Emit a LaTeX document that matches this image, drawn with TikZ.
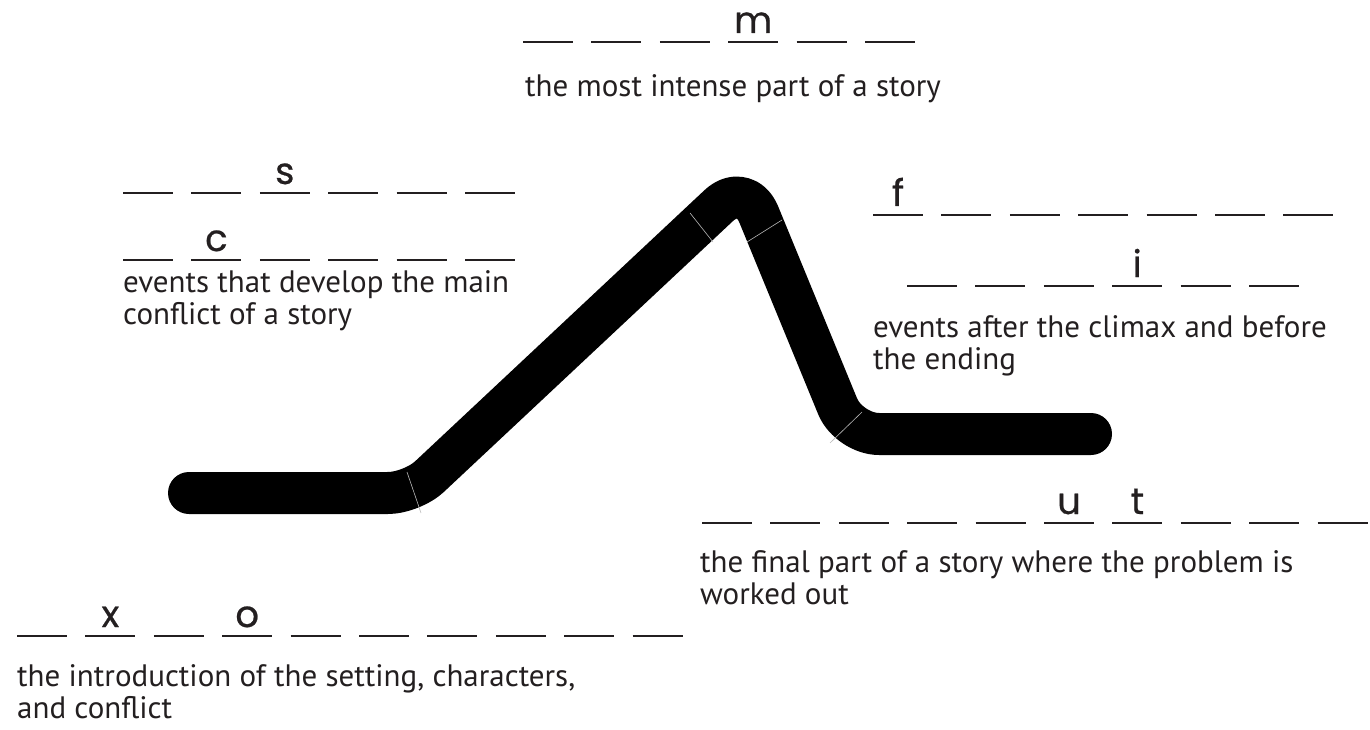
\documentclass[tikz,border=0pt]{standalone}
\usepackage{fontspec}
\setmainfont{PT Sans}
\newfontfamily\letterfont[FakeBold=0.6]{Poppins}
\definecolor{ink}{HTML}{231F20}
\begin{document}
\begin{tikzpicture}[x=1pt,y=-1pt,
  blank/.style={line width=2pt, draw=ink},
  letter/.style={font=\letterfont\fontsize{37}{37}\selectfont, text=ink, anchor=base, inner sep=0pt},
  defn/.style={font=\fontsize{31}{32}\selectfont, text=ink, anchor=base west, inner sep=0pt, align=left},
  plotline/.style={line width=42pt, line cap=round, line join=round},
  seam/.style={line width=0.6pt, draw=gray!55}]
\useasboundingbox (0,0) rectangle (1370,730);

% the plot line
\coordinate (start) at (189,493);
\coordinate (rise) at (412,493);
\coordinate (peak) at (745,181);
\coordinate (fall) at (849,434);
\coordinate (finish) at (1091,434);
\draw[plotline] (start) [rounded corners=24pt] -- (rise) [rounded corners=36pt] -- (peak)
  [rounded corners=30pt] -- (fall) -- (finish);

% joints between the pieces of the line
\draw[seam] (407,472) -- (421,513);
\draw[seam] (690,213) -- (713,242);
\draw[seam] (747,242) -- (782,220);
\draw[seam] (830,443) -- (862,412);

% row of blanks: x, y, count
\newcommand{\blankrow}[3]{%
  \foreach \k in {1,...,#3} {\draw[blank] ({#1+(\k-1)*68.4},#2) -- ++(50,0);}}

% climax
\blankrow{523}{42}{6}
\node[letter] (cm) at ({523+3*68.4+25},33) {m};
\node[defn] (climax) at (525,97) {the most intense part of a story};

% rising action (base anchor sits on the last line)
\blankrow{123}{193}{6}
\node[letter] (rs) at ({123+2*68.4+25},184) {s};
\blankrow{123}{260}{6}
\node[letter] (rc) at ({123+1*68.4+25},251) {c};
\node[defn] (rising) at (123,324) {events that develop the main\\conflict of a story};

% falling action
\blankrow{873}{215}{7}
\node[letter] (ff) at ({873+25},206) {f};
\blankrow{907}{286}{6}
\node[letter] (fi) at ({907+3*68.4+25},277) {i};
\node[defn] (falling) at (873,369) {events after the climax and before\\the ending};

% resolution
\blankrow{702}{523}{10}
\node[letter] (ru) at ({702+5*68.4+25},514) {u};
\node[letter] (rt) at ({702+6*68.4+25},514) {t};
\node[defn] (resolution) at (700,604) {the final part of a story where the problem is\\worked out};

% exposition
\blankrow{17}{636}{10}
\node[letter] (ex) at ({17+1*68.4+25},627) {x};
\node[letter] (eo) at ({17+3*68.4+25},627) {o};
\node[defn] (exposition) at (17,718) {the introduction of the setting, characters,\\and conflict};
\end{tikzpicture}
\end{document}
